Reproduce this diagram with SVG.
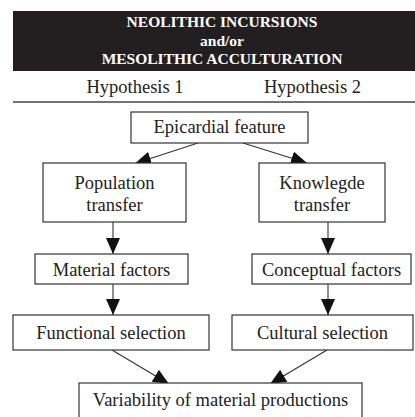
<svg xmlns="http://www.w3.org/2000/svg" width="415" height="417" viewBox="0 0 415 417">
<style>
.box{fill:#fff;stroke:#333;stroke-width:1.2}
.t{font-family:"Liberation Serif","Times New Roman",serif;font-size:18.5px;fill:#222;text-anchor:middle}
.h{font-family:"Liberation Serif","Times New Roman",serif;font-size:15.5px;font-weight:bold;fill:#fff;text-anchor:middle}
.c{stroke:#333;stroke-width:1.1;fill:none}
</style>
<defs>
<marker id="ah" markerUnits="userSpaceOnUse" markerWidth="16" markerHeight="14" viewBox="0 0 16 14" refX="16" refY="7" orient="auto">
<path d="M0,0 L16,7 L0,14 Z" fill="#111"/>
</marker>
</defs>
<rect width="415" height="417" fill="#fff"/>
<g id="header">
<rect x="13" y="11" width="402" height="60" fill="#231f20"/>
<text class="h" x="222" y="27">NEOLITHIC INCURSIONS</text>
<text class="h" x="222" y="45.5">and/or</text>
<text class="h" x="222" y="64">MESOLITHIC ACCULTURATION</text>
</g>
<g id="hypotheses">
<text class="t" x="135" y="93">Hypothesis 1</text>
<text class="t" x="312.5" y="93">Hypothesis 2</text>
<line x1="13" y1="102" x2="415" y2="102" stroke="#444" stroke-width="1.5"/>
</g>
<g id="connectors">
<line class="c" x1="198" y1="143" x2="135" y2="163.5" marker-end="url(#ah)"/>
<line class="c" x1="243" y1="143" x2="307" y2="163" marker-end="url(#ah)"/>
<line class="c" x1="113" y1="222" x2="113" y2="254" marker-end="url(#ah)"/>
<line class="c" x1="328" y1="222" x2="328" y2="254" marker-end="url(#ah)"/>
<line class="c" x1="113" y1="284" x2="113" y2="315" marker-end="url(#ah)"/>
<line class="c" x1="328" y1="284" x2="328" y2="315" marker-end="url(#ah)"/>
<line class="c" x1="112" y1="350" x2="169" y2="384" marker-end="url(#ah)"/>
<line class="c" x1="327" y1="350" x2="270" y2="384" marker-end="url(#ah)"/>
</g>
<g id="epicardial">
<rect class="box" x="131" y="112" width="177" height="31"/>
<text class="t" x="219.5" y="133">Epicardial feature</text>
</g>
<g id="population">
<rect class="box" x="43" y="163" width="143" height="59"/>
<text class="t" x="114.5" y="189">Population</text>
<text class="t" x="114.5" y="211">transfer</text>
</g>
<g id="knowledge">
<rect class="box" x="259" y="163" width="126" height="59"/>
<text class="t" x="322" y="189">Knowlegde</text>
<text class="t" x="322" y="211">transfer</text>
</g>
<g id="material">
<rect class="box" x="35" y="254" width="153" height="30"/>
<text class="t" x="111.5" y="276">Material factors</text>
</g>
<g id="conceptual">
<rect class="box" x="252" y="254" width="159" height="30"/>
<text class="t" x="331.5" y="276">Conceptual factors</text>
</g>
<g id="functional">
<rect class="box" x="13" y="315" width="196" height="35"/>
<text class="t" x="111" y="339">Functional selection</text>
</g>
<g id="cultural">
<rect class="box" x="232" y="315" width="181" height="35"/>
<text class="t" x="322.5" y="339">Cultural selection</text>
</g>
<g id="variability">
<rect class="box" x="79" y="383" width="283" height="40"/>
<text class="t" x="220.5" y="406">Variability of material productions</text>
</g>
</svg>
